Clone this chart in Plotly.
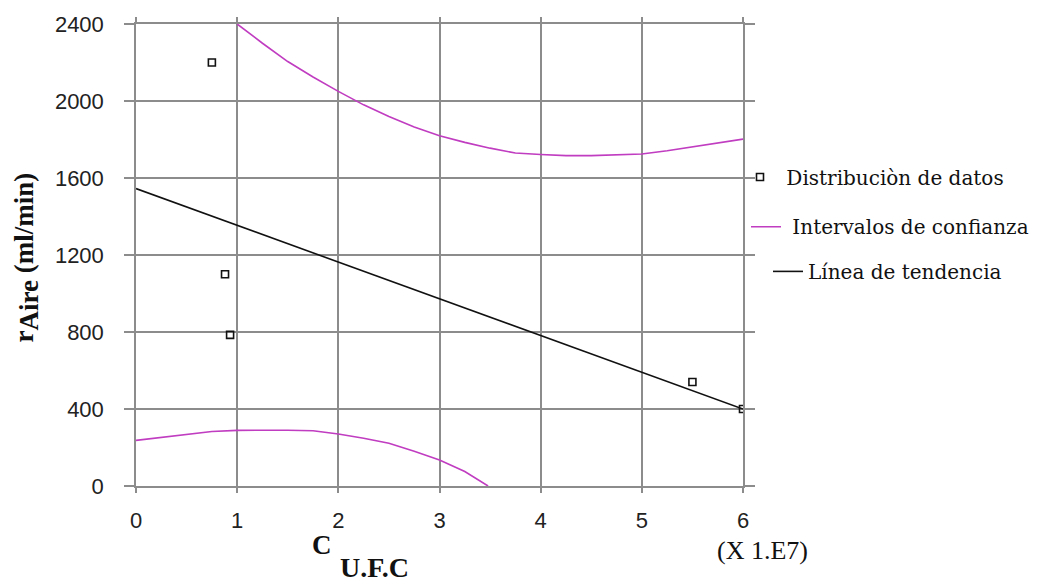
import plotly.graph_objects as go

# Observed data: air removal rate vs. U.F.C concentration (x 1e7)
data_x = [0.75, 0.88, 0.93, 5.5, 6.0]
data_y = [2200, 1100, 785, 540, 400]

# Fitted trend line
trend_x = [0.0, 6.0]
trend_y = [1545, 400]

# Upper confidence limit
upper_x = [1.0, 1.25, 1.5, 1.75, 2.0, 2.25, 2.5, 2.75, 3.0, 3.25, 3.5, 3.75,
           4.0, 4.25, 4.5, 4.75, 5.0, 5.25, 5.5, 5.75, 6.0]
upper_y = [2400, 2300, 2205, 2125, 2050, 1980, 1920, 1865, 1820, 1785, 1755, 1730,
           1722, 1716, 1716, 1720, 1725, 1742, 1762, 1782, 1802]

# Lower confidence limit
lower_x = [0.0, 0.25, 0.5, 0.75, 1.0, 1.25, 1.5, 1.75, 2.0, 2.25, 2.5, 2.75,
           3.0, 3.25, 3.48]
lower_y = [237, 252, 268, 283, 289, 290, 290, 287, 270, 248, 222, 180,
           135, 75, 0]

x_ticks = [0, 1, 2, 3, 4, 5, 6]
y_ticks = [0, 400, 800, 1200, 1600, 2000, 2400]

GRID = "#8c8c8c"
MAGENTA = "#c03cc0"
NBSP = "\u00a0"
LEGEND_FONT = dict(family="DejaVu Serif", size=20, color="#111")
TICK_FONT = dict(family="Liberation Sans", size=22, color="#222")

fig = go.Figure()

fig.add_trace(go.Scatter(
    x=upper_x, y=upper_y, mode="lines",
    line=dict(color=MAGENTA, width=1.6),
    name=NBSP + "Intervalos de confianza", legend="legend2",
))
fig.add_trace(go.Scatter(
    x=lower_x, y=lower_y, mode="lines",
    line=dict(color=MAGENTA, width=1.6),
    showlegend=False,
))
fig.add_trace(go.Scatter(
    x=trend_x, y=trend_y, mode="lines",
    line=dict(color="#111111", width=1.6),
    name="Línea de tendencia", legend="legend3",
))
fig.add_trace(go.Scatter(
    x=data_x, y=data_y, mode="markers",
    marker=dict(symbol="square-open", size=7, color="#111111",
                line=dict(width=1.6, color="#111111")),
    name=NBSP + "Distribuciòn de datos", legend="legend",
))

W, H = 1053, 586
L, R, T, B = 136, 310, 21, 100
pw, ph = W - L - R, H - T - B


def px_x(p):
    return (p - L) / pw


def px_y(p):
    return (H - B - p) / ph


legend_common = dict(font=LEGEND_FONT, bgcolor="rgba(0,0,0,0)",
                     borderwidth=0, xanchor="left", yanchor="middle",
                     itemwidth=30)

axis_common = dict(
    showgrid=True, gridcolor=GRID, gridwidth=1.5,
    showline=True, linecolor=GRID, linewidth=1.5, mirror="allticks",
    ticks="outside", tickwidth=1.5, tickcolor=GRID,
    tickfont=TICK_FONT, zeroline=False,
)

fig.update_layout(
    width=W, height=H,
    margin=dict(l=L, r=R, t=T, b=B),
    paper_bgcolor="white", plot_bgcolor="white",
    legend=dict(x=px_x(740), y=px_y(175), **legend_common),
    legend2=dict(x=px_x(746), y=px_y(225), **legend_common),
    legend3=dict(x=px_x(768), y=px_y(270), **legend_common),
    xaxis=dict(
        range=[0, 6], tickvals=x_ticks, ticktext=[str(v) for v in x_ticks],
        ticklen=5, ticklabelstandoff=9, **axis_common,
    ),
    yaxis=dict(
        range=[0, 2400], tickvals=y_ticks, ticktext=[str(v) for v in y_ticks],
        ticklen=10, ticklabelstandoff=16, **axis_common,
    ),
    annotations=[
        dict(
            text="r<sub><span style='font-size:27px'>Aire</span></sub> (ml/min)",
            textangle=-90,
            xref="paper", yref="paper", x=px_x(27), y=px_y(256),
            xanchor="center", yanchor="middle", showarrow=False,
            font=dict(family="Liberation Serif", size=27, color="#111", weight="bold"),
        ),
        dict(
            text="C",
            xref="paper", yref="paper", x=px_x(322), y=px_y(545),
            xanchor="center", yanchor="middle", showarrow=False,
            font=dict(family="Liberation Serif", size=27, color="#111", weight="bold"),
        ),
        dict(
            text="U.F.C",
            xref="paper", yref="paper", x=px_x(374), y=px_y(568),
            xanchor="center", yanchor="middle", showarrow=False,
            font=dict(family="Liberation Serif", size=28, color="#111", weight="bold"),
        ),
        dict(
            text="(X 1.E7)",
            xref="paper", yref="paper", x=px_x(762), y=px_y(551),
            xanchor="center", yanchor="middle", showarrow=False,
            font=dict(family="Liberation Serif", size=26, color="#111"),
        ),
    ],
)

fig.write_html("out.html")
